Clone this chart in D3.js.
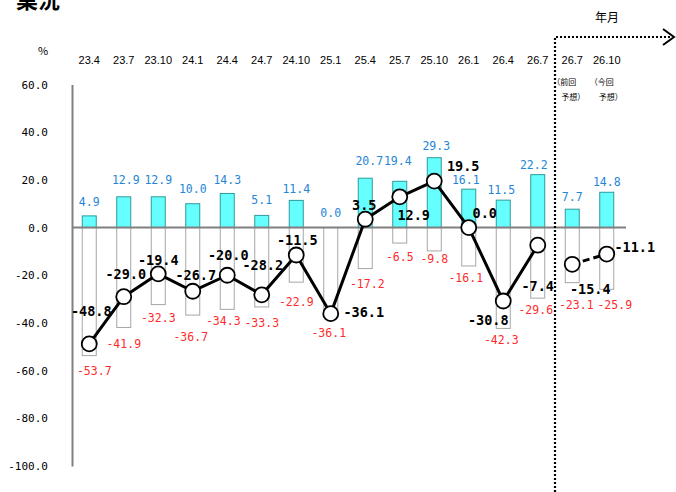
<!DOCTYPE html>
<html><head><meta charset="utf-8">
<script src="https://cdn.jsdelivr.net/npm/d3@7"></script>
<style>
html,body{margin:0;padding:0;background:#fff;}
svg{display:block;}
</style></head>
<body>
<div id="chart"></div>
<script>
// ---- data ----
const categories = ["23.4","23.7","23.10","24.1","24.4","24.7","24.10","25.1","25.4","25.7","25.10","26.1","26.4","26.7","26.7","26.10"];
const upValues   = [4.9,12.9,12.9,10.0,14.3,5.1,11.4,0.0,20.7,19.4,29.3,16.1,11.5,22.2,7.7,14.8];
const downValues = [-53.7,-41.9,-32.3,-36.7,-34.3,-33.3,-22.9,-36.1,-17.2,-6.5,-9.8,-16.1,-42.3,-29.6,-23.1,-25.9];
const diValues   = [-48.8,-29.0,-19.4,-26.7,-20.0,-28.2,-11.5,-36.1,3.5,12.9,19.5,0.0,-30.8,-7.4];
const forecastValues = [-15.4,-11.1];
const yTicks = [60,40,20,0,-20,-40,-60,-80,-100];
const forecastNotes = [["（前回","予想）"],["（今回","予想）"]];

// label nudges (pixels)
const upLabelDy   = [-14,-17,-17,-15,-14,-16,-12,-15,-17,-20,-12,-9,-10,-10,-12,-10];
const upLabelDx   = [0,2,0,0,0,0,0,0,4,-2,2,-3,-2,-4,0,0];
const downLabelDy = [15,16,13,22,12,16,20,19,15,14,8,12,11,12,22,16];
const downLabelDx = [5,0,0,-2,-4,0,0,-2,2,0,0,-3,-2,-2,4,8];
const diLabelDx   = [2,2,0,3,1,1,1,33,-1,14,29,16,-15,0,18,28];
const diLabelDy   = [-33,-23,-14,-16.5,-20.5,-30,-15,-1,-14,18,-15,-14,19,41,25,-7];

const W = 676, H = 492;
const svg = d3.select("#chart").append("svg").attr("width", W).attr("height", H);

const idx = d3.range(categories.length);
const x = d3.scalePoint().domain(idx).range([72, 624]).padding(0.5);
const y = d3.scaleLinear().domain([-100, 60]).range([466, 84.5]);
const barW = 14;
const fmt = v => d3.format(".1f")(v).replace("−", "-");

const monoFont = "'DejaVu Sans Mono','Liberation Mono',monospace";

// title (mostly cropped)
svg.append("text").attr("x", 16).attr("y", 8)
  .attr("font-family", "'Noto Sans CJK JP',sans-serif").attr("font-weight", "bold")
  .attr("font-size", 22).attr("fill", "#000").text("業況");

// % unit
svg.append("text").attr("x", 43).attr("y", 55).attr("text-anchor", "middle")
  .attr("font-family", "'Noto Sans CJK JP',sans-serif").attr("font-size", 11).attr("fill", "#000").text("%");

// category labels
svg.append("g").selectAll("text").data(idx).join("text")
  .attr("x", i => x(i)).attr("y", 64).attr("text-anchor", "middle")
  .attr("font-family", "'Liberation Sans',Arial,sans-serif").attr("font-size", 11).attr("fill", "#000")
  .text(i => categories[i]);

// forecast notes
forecastNotes.forEach((lines, k) => {
  const cx = x(14 + k);
  svg.append("text").attr("x", cx - 8 + k * 3).attr("y", 85).attr("text-anchor", "middle")
    .attr("font-family", "'Noto Sans CJK JP',sans-serif").attr("font-size", 8).attr("fill", "#000").text(lines[0]);
  svg.append("text").attr("x", cx + 1 + k * 3).attr("y", 100).attr("text-anchor", "middle")
    .attr("font-family", "'Noto Sans CJK JP',sans-serif").attr("font-size", 8).attr("fill", "#000").text(lines[1]);
});

// 年月
svg.append("text").attr("x", 607).attr("y", 22).attr("text-anchor", "middle")
  .attr("font-family", "'Noto Sans CJK JP',sans-serif").attr("font-size", 12).attr("fill", "#000").text("年月");

// y axis
const yAxis = d3.axisLeft(y).tickValues(yTicks).tickSize(0).tickSizeOuter(0).tickPadding(24).tickFormat(fmt);
const gy = svg.append("g").attr("transform", "translate(72,0)").call(yAxis);
gy.select(".domain").attr("stroke", "#808080").attr("stroke-width", 2);
gy.selectAll("text").attr("font-family", monoFont).attr("font-size", 11).attr("fill", "#000");

// negative bars
svg.append("g").selectAll("rect").data(idx).join("rect")
  .attr("x", i => x(i) - barW / 2).attr("y", y(0))
  .attr("width", barW).attr("height", i => y(downValues[i]) - y(0))
  .attr("fill", "#fff").attr("stroke", "#a6a6a6").attr("stroke-width", 1);

// positive bars
svg.append("g").selectAll("rect").data(idx).join("rect")
  .attr("x", i => x(i) - barW / 2).attr("y", i => y(upValues[i]))
  .attr("width", barW).attr("height", i => y(0) - y(upValues[i]))
  .attr("fill", "#66ffff").attr("stroke", "#2f9a9a").attr("stroke-width", 1);

// zero line
svg.append("line").attr("x1", 72).attr("x2", 626).attr("y1", y(0)).attr("y2", y(0))
  .attr("stroke", "#808080").attr("stroke-width", 2);

// forecast divider (dotted)
const divX = (x(13) + x(14)) / 2;
svg.append("path").attr("d", `M${divX},492 L${divX},37 L670,37`)
  .attr("fill", "none").attr("stroke", "#000").attr("stroke-width", 2.2).attr("stroke-dasharray", "2,2");
svg.append("path").attr("d", "M663,29 L674,37 L663,45")
  .attr("fill", "none").attr("stroke", "#000").attr("stroke-width", 2);

// DI line
const line = d3.line().x(d => x(d.i)).y(d => y(d.v));
const diPts = diValues.map((v, i) => ({ i, v }));
const fcPts = forecastValues.map((v, k) => ({ i: 14 + k, v }));
svg.append("path").datum(diPts).attr("d", line)
  .attr("fill", "none").attr("stroke", "#000").attr("stroke-width", 3).attr("stroke-linejoin", "round");
svg.append("path").datum(fcPts).attr("d", line)
  .attr("fill", "none").attr("stroke", "#000").attr("stroke-width", 3).attr("stroke-dasharray", "7,4");

const allPts = diPts.concat(fcPts);
svg.append("g").selectAll("circle").data(allPts).join("circle")
  .attr("cx", d => x(d.i)).attr("cy", d => y(d.v)).attr("r", 7.5)
  .attr("fill", "#fff").attr("stroke", "#000").attr("stroke-width", 1.8);

// up labels
svg.append("g").selectAll("text").data(idx).join("text")
  .attr("x", i => x(i) + upLabelDx[i]).attr("y", i => y(upValues[i]) + upLabelDy[i])
  .attr("dy", "0.36em").attr("text-anchor", "middle")
  .attr("font-family", monoFont).attr("font-size", 11.5).attr("fill", "#2585d8")
  .text(i => fmt(upValues[i]));

// down labels
svg.append("g").selectAll("text").data(idx).join("text")
  .attr("x", i => x(i) + downLabelDx[i]).attr("y", i => y(downValues[i]) + downLabelDy[i])
  .attr("dy", "0.36em").attr("text-anchor", "middle")
  .attr("font-family", monoFont).attr("font-size", 11.5).attr("fill", "#ff2b2b")
  .text(i => fmt(downValues[i]));

// DI labels
svg.append("g").selectAll("text").data(allPts).join("text")
  .attr("x", d => x(d.i) + diLabelDx[d.i]).attr("y", d => y(d.v) + diLabelDy[d.i])
  .attr("dy", "0.36em").attr("text-anchor", "middle")
  .attr("font-family", monoFont).attr("font-weight", "bold").attr("font-size", 13.5).attr("fill", "#000")
  .text(d => fmt(d.v));
</script>
</body></html>
